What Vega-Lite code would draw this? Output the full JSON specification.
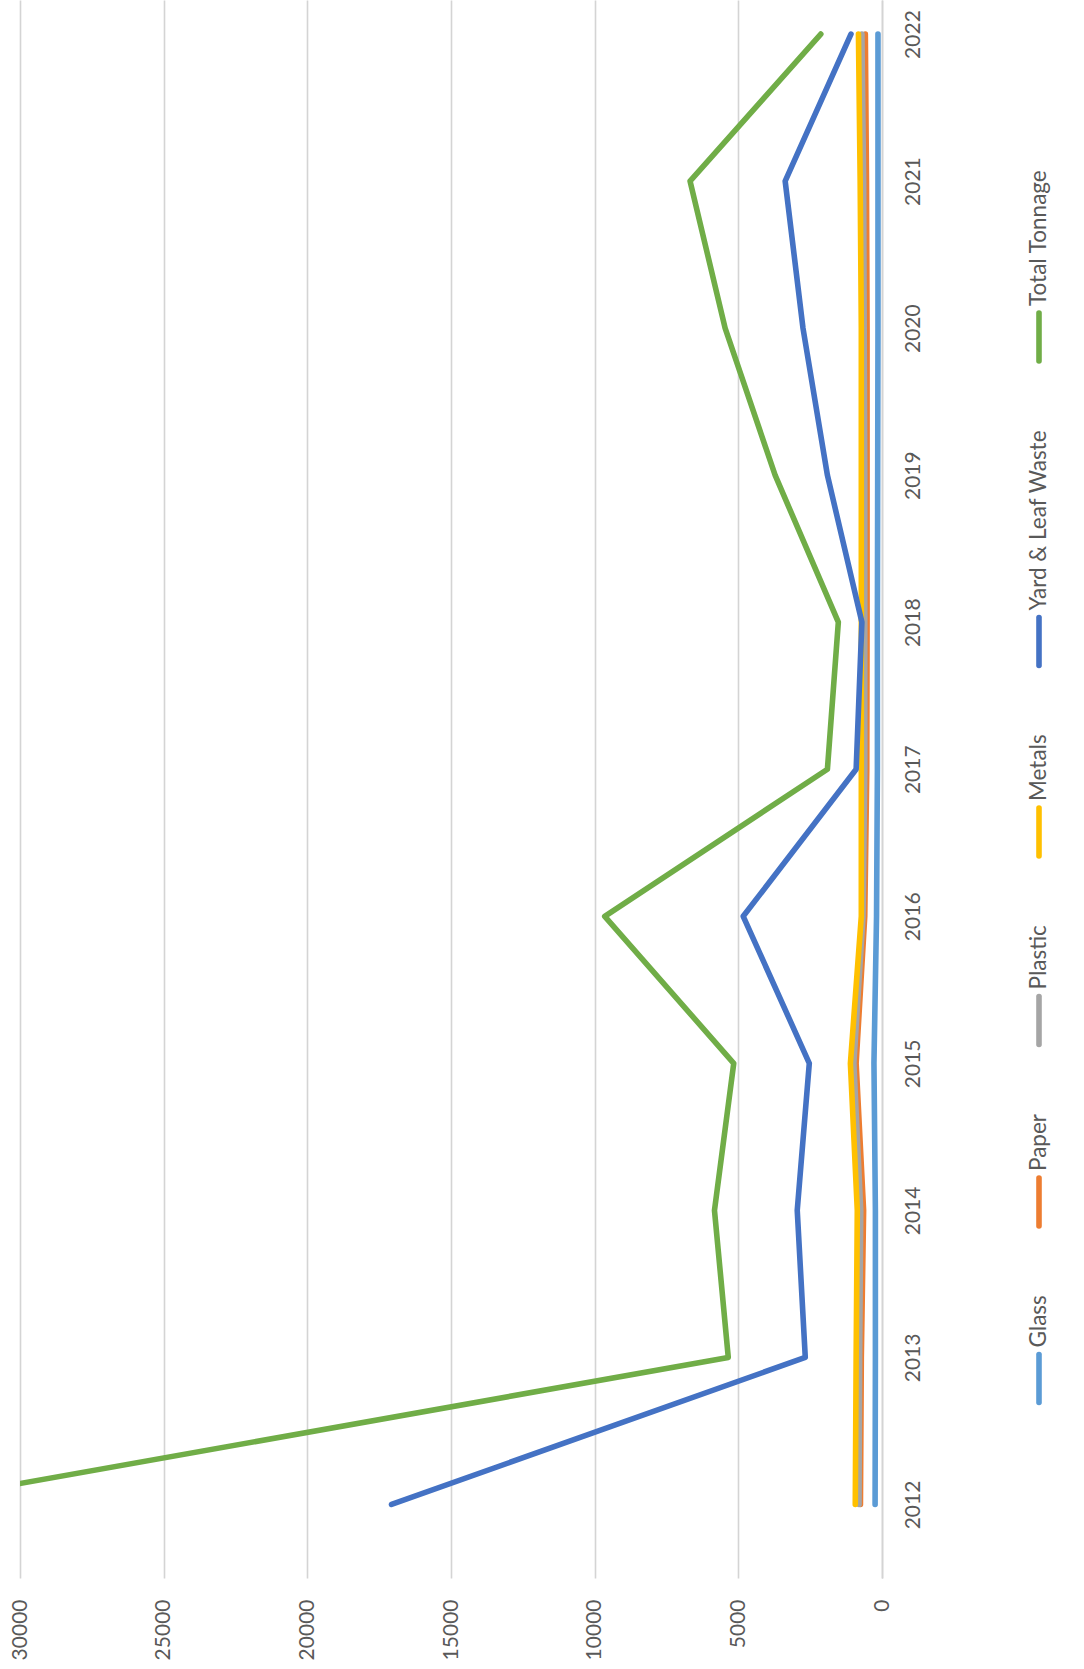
{
  "$schema": "https://vega.github.io/schema/vega-lite/v6.json",
  "padding": {"left": 9, "top": 0, "right": 0, "bottom": 0},
  "background": "white",
  "config": {"view": {"stroke": null}, "font": "Lato"},
  "width": 862,
  "height": 1578,
  "data": {"values": [
      {"series": "Glass", "year": 2012, "value": 240},
      {"series": "Glass", "year": 2013, "value": 230},
      {"series": "Glass", "year": 2014, "value": 230},
      {"series": "Glass", "year": 2015, "value": 280},
      {"series": "Glass", "year": 2016, "value": 190},
      {"series": "Glass", "year": 2017, "value": 160},
      {"series": "Glass", "year": 2018, "value": 160},
      {"series": "Glass", "year": 2019, "value": 150},
      {"series": "Glass", "year": 2020, "value": 140},
      {"series": "Glass", "year": 2021, "value": 140},
      {"series": "Glass", "year": 2022, "value": 140},
      {"series": "Paper", "year": 2012, "value": 750},
      {"series": "Paper", "year": 2013, "value": 720},
      {"series": "Paper", "year": 2014, "value": 640},
      {"series": "Paper", "year": 2015, "value": 900},
      {"series": "Paper", "year": 2016, "value": 600},
      {"series": "Paper", "year": 2017, "value": 530},
      {"series": "Paper", "year": 2018, "value": 520},
      {"series": "Paper", "year": 2019, "value": 520},
      {"series": "Paper", "year": 2020, "value": 520},
      {"series": "Paper", "year": 2021, "value": 540},
      {"series": "Paper", "year": 2022, "value": 580},
      {"series": "Plastic", "year": 2012, "value": 800},
      {"series": "Plastic", "year": 2013, "value": 780},
      {"series": "Plastic", "year": 2014, "value": 740},
      {"series": "Plastic", "year": 2015, "value": 980},
      {"series": "Plastic", "year": 2016, "value": 660},
      {"series": "Plastic", "year": 2017, "value": 600},
      {"series": "Plastic", "year": 2018, "value": 600},
      {"series": "Plastic", "year": 2019, "value": 600},
      {"series": "Plastic", "year": 2020, "value": 620},
      {"series": "Plastic", "year": 2021, "value": 640},
      {"series": "Plastic", "year": 2022, "value": 700},
      {"series": "Metals", "year": 2012, "value": 930},
      {"series": "Metals", "year": 2013, "value": 900},
      {"series": "Metals", "year": 2014, "value": 860},
      {"series": "Metals", "year": 2015, "value": 1100},
      {"series": "Metals", "year": 2016, "value": 720},
      {"series": "Metals", "year": 2017, "value": 720},
      {"series": "Metals", "year": 2018, "value": 720},
      {"series": "Metals", "year": 2019, "value": 720},
      {"series": "Metals", "year": 2020, "value": 720},
      {"series": "Metals", "year": 2021, "value": 760},
      {"series": "Metals", "year": 2022, "value": 820},
      {"series": "Yard & Leaf Waste", "year": 2012, "value": 17070},
      {"series": "Yard & Leaf Waste", "year": 2013, "value": 2670},
      {"series": "Yard & Leaf Waste", "year": 2014, "value": 2950},
      {"series": "Yard & Leaf Waste", "year": 2015, "value": 2530},
      {"series": "Yard & Leaf Waste", "year": 2016, "value": 4830},
      {"series": "Yard & Leaf Waste", "year": 2017, "value": 900},
      {"series": "Yard & Leaf Waste", "year": 2018, "value": 700},
      {"series": "Yard & Leaf Waste", "year": 2019, "value": 1900},
      {"series": "Yard & Leaf Waste", "year": 2020, "value": 2750},
      {"series": "Yard & Leaf Waste", "year": 2021, "value": 3370},
      {"series": "Yard & Leaf Waste", "year": 2022, "value": 1080},
      {"series": "Total Tonnage", "year": 2012, "value": 34100},
      {"series": "Total Tonnage", "year": 2013, "value": 5350},
      {"series": "Total Tonnage", "year": 2014, "value": 5830},
      {"series": "Total Tonnage", "year": 2015, "value": 5160},
      {"series": "Total Tonnage", "year": 2016, "value": 9650},
      {"series": "Total Tonnage", "year": 2017, "value": 1900},
      {"series": "Total Tonnage", "year": 2018, "value": 1520},
      {"series": "Total Tonnage", "year": 2019, "value": 3720},
      {"series": "Total Tonnage", "year": 2020, "value": 5460},
      {"series": "Total Tonnage", "year": 2021, "value": 6680},
      {"series": "Total Tonnage", "year": 2022, "value": 2130}
  ]},
  "mark": {"type": "line", "strokeWidth": 5.6, "strokeCap": "round", "strokeJoin": "round", "clip": true},
  "encoding": {
    "x": {
      "field": "value", "type": "quantitative",
      "scale": {"domain": [0, 30000], "reverse": true, "nice": false},
      "axis": {
        "values": [0, 5000, 10000, 15000, 20000, 25000, 30000],
        "format": "d", "title": null,
        "labelAngle": -90, "labelAlign": "right", "labelBaseline": "middle",
        "labelFlush": false, "labelOverlap": false,
        "grid": true, "gridColor": "#d4d4d4", "gridWidth": 1.6,
        "domain": false, "ticks": false, "tickSize": 0,
        "labelPadding": 21, "labelFontSize": 21, "labelColor": "#595959", "labelFont": "Lato"
      }
    },
    "y": {
      "field": "year", "type": "quantitative",
      "scale": {"domain": [2011.5, 2022.2315], "nice": false, "zero": false},
      "axis": {
        "orient": "right",
        "values": [2012, 2013, 2014, 2015, 2016, 2017, 2018, 2019, 2020, 2021, 2022],
        "format": "d", "title": null,
        "labelAngle": -90, "labelAlign": "center", "labelBaseline": "top",
        "labelFlush": false, "labelOverlap": false,
        "grid": false, "ticks": false, "tickSize": 0,
        "domain": true, "domainColor": "#d4d4d4", "domainWidth": 1.6,
        "labelPadding": 20, "labelFontSize": 21, "labelColor": "#595959", "labelFont": "Lato"
      }
    },
    "color": {
      "field": "series", "type": "nominal",
      "scale": {
        "domain": ["Glass", "Paper", "Plastic", "Metals", "Yard & Leaf Waste", "Total Tonnage"],
        "range": ["#5B9BD5", "#ED7D31", "#A5A5A5", "#FFC000", "#4472C4", "#70AD47"]
      },
      "legend": {
        "title": null,
        "orient": "none",
        "legendX": 992,
        "legendY": 310,
        "direction": "vertical",
        "padding": 0,
        "values": ["Total Tonnage", "Yard & Leaf Waste", "Metals", "Plastic", "Paper", "Glass"],
        "symbolType": "stroke",
        "symbolSize": 2304,
        "symbolStrokeWidth": 5.6,
        "labelFontSize": 22.5,
        "labelFont": "Lato",
        "labelColor": "#595959",
        "labelLimit": 400,
        "labelOffset": -26.65,
        "rowPadding": 56.5,
        "encode": {
          "symbols": {"update": {"angle": {"value": 90}, "strokeCap": {"value": "round"}}},
          "labels": {"update": {"angle": {"value": -90}, "align": {"value": "left"}, "baseline": {"value": "middle"}, "dx": {"value": 31}}}
        }
      }
    },
    "order": {"field": "year", "type": "quantitative"}
  }
}
